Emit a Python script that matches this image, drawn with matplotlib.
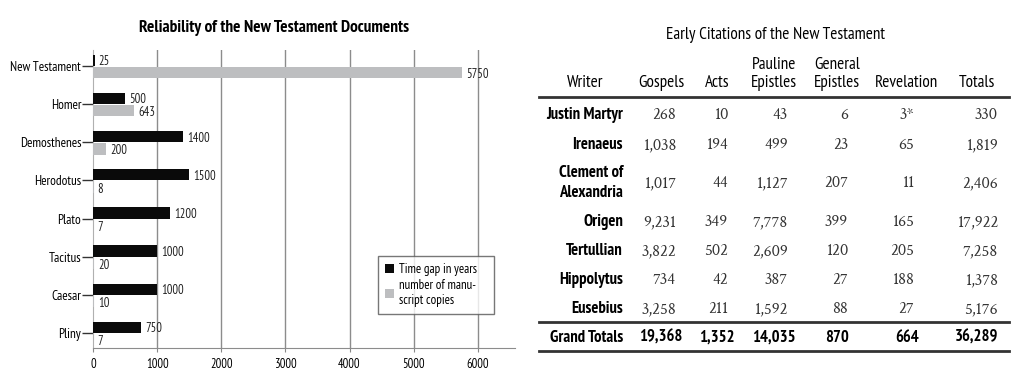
import numpy as np
import matplotlib
matplotlib.use("Agg")
import matplotlib.pyplot as plt
from matplotlib.patches import Patch
import logging

logging.getLogger("matplotlib.font_manager").setLevel(logging.ERROR)

SANS = ["PT Sans Narrow", "Asap Condensed", "Archivo Narrow", "Liberation Sans", "DejaVu Sans"]
SERIF = ["Crimson Text", "Crimson Pro", "Liberation Serif", "DejaVu Serif"]
plt.rcParams["font.family"] = SANS

# === Bar chart data ===
works = ["New Testament", "Homer", "Demosthenes", "Herodotus",
         "Plato", "Tacitus", "Caesar", "Pliny"]
time_gap = [25, 500, 1400, 1500, 1200, 1000, 1000, 750]
copies = [5750, 643, 200, 8, 7, 20, 10, 7]
x_ticks = [0, 1000, 2000, 3000, 4000, 5000, 6000]
legend_labels = ["Time gap in years", "number of manu-\nscript copies"]

# === Table data ===
table_title = "Early Citations of the New Testament"
col_headers = ["Writer", "Gospels", "Acts", "Pauline\nEpistles",
               "General\nEpistles", "Revelation", "Totals"]
writers = ["Justin Martyr", "Irenaeus", "Clement of\nAlexandria", "Origen",
           "Tertullian", "Hippolytus", "Eusebius"]
gospels = ["268", "1,038", "1,017", "9,231", "3,822", "734", "3,258"]
acts = ["10", "194", "44", "349", "502", "42", "211"]
pauline = ["43", "499", "1,127", "7,778", "2,609", "387", "1,592"]
general = ["6", "23", "207", "399", "120", "27", "88"]
revelation = ["3*", "65", "11", "165", "205", "188", "27"]
totals = ["330", "1,819", "2,406", "17,922", "7,258", "1,378", "5,176"]
grand_label = "Grand Totals"
grand_totals = ["19,368", "1,352", "14,035", "870", "664", "36,289"]

BLACK = "#0a0a0a"
GREY = "#bdbec0"

fig = plt.figure(figsize=(10.24, 3.84), dpi=100)

# --- left: horizontal bar chart ---
ax = fig.add_axes([93 / 1024, 1 - 348 / 384, (515 - 93) / 1024, (348 - 50) / 384])
y = np.arange(len(works))
bh = 0.3
ax.barh(y - 0.15, time_gap, height=bh, color=BLACK, zorder=3)
ax.barh(y + 0.17, copies, height=bh, color=GREY, zorder=3)

for yi, v in zip(y, time_gap):
    ax.annotate(str(v), (v, yi - 0.15), xytext=(3, -1), textcoords="offset points",
                va="center", ha="left", fontsize=9, color="#222222")
for yi, v in zip(y, copies):
    ax.annotate(str(v), (v, yi + 0.17), xytext=(3, -1.5), textcoords="offset points",
                va="center", ha="left", fontsize=9, color="#222222")

ax.set_xlim(0, 6580)
ax.set_ylim(len(works) - 1 + 0.39, -0.42)
ax.set_yticks(y)
ax.set_yticklabels(works, fontsize=9.5)
ax.set_xticks(x_ticks)
ax.set_xticklabels([str(t) for t in x_ticks], fontsize=9)
ax.tick_params(axis="y", length=8, width=1, color="#333333", pad=0.5)
ax.tick_params(axis="x", length=3, width=0.8, color="#888888", pad=4)

for t in x_ticks[1:]:
    ax.axvline(t, color="#8c8c8c", linewidth=1, zorder=1)
for s in ["top", "right"]:
    ax.spines[s].set_visible(False)
ax.spines["left"].set_color("#b0b0b0")
ax.spines["bottom"].set_color("#8c8c8c")

fig.text(274 / 1024, 1 - 32 / 384, "Reliability of the New Testament Documents",
         ha="center", va="baseline", fontsize=12.4, fontweight="bold")

handles = [Patch(facecolor=BLACK, edgecolor="none"),
           Patch(facecolor=GREY, edgecolor="none")]
leg = ax.legend(handles, legend_labels, loc="upper left",
                bbox_to_anchor=(0.675, 0.121, 0.275, 0.188), mode="expand",
                fontsize=9.3, frameon=True,
                fancybox=False, handlelength=0.7, handleheight=0.7,
                handletextpad=0.4, borderpad=0.55, labelspacing=0.25,
                borderaxespad=0)
leg.get_frame().set_edgecolor("#555555")
leg.get_frame().set_linewidth(1)

# --- right: citations table ---
tx = fig.add_axes([530 / 1024, 0, (1024 - 530) / 1024, 1])
tx.set_xlim(530, 1024)
tx.set_ylim(384, 0)
tx.axis("off")

tx.text(775, 39, table_title, ha="center", va="baseline", fontsize=12.3)

head_x = [585, 661, 717, 774, 837, 907, 977]
for hx, h in zip(head_x, col_headers):
    tx.text(hx, 91, h, ha="center", va="bottom", fontsize=12.3,
            linespacing=1.2)

rule_kw = dict(color="#333333", linewidth=2)
tx.plot([539, 1009], [97, 97], **rule_kw)
tx.plot([539, 1009], [322, 322], **rule_kw)
tx.plot([539, 1009], [351, 351], **rule_kw)

label_x = 623
num_x = [676, 728, 788, 848, 914, 998]
row_base = [119, 149, 187, 226, 255, 284, 313]
columns = [gospels, acts, pauline, general, revelation, totals]

for i, w in enumerate(writers):
    if "\n" in w:
        l1, l2 = w.split("\n")
        tx.text(label_x, row_base[i] - 10, l1, ha="right", va="baseline",
                fontsize=12, fontweight="bold")
        tx.text(label_x, row_base[i] + 10, l2, ha="right", va="baseline",
                fontsize=12, fontweight="bold")
    else:
        tx.text(label_x, row_base[i], w, ha="right", va="baseline",
                fontsize=12, fontweight="bold")
    for cx, col in zip(num_x, columns):
        tx.text(cx, row_base[i], col[i], ha="right", va="baseline",
                fontsize=12, family=SERIF, color="#333333")

tx.text(label_x, 342, grand_label, ha="right", va="baseline",
        fontsize=12, fontweight="bold")
for hx, v in zip(head_x[1:], grand_totals):
    tx.text(hx, 342, v, ha="center", va="baseline", fontsize=12,
            fontweight="bold")

fig.savefig("out.png", dpi=100, facecolor="white")
